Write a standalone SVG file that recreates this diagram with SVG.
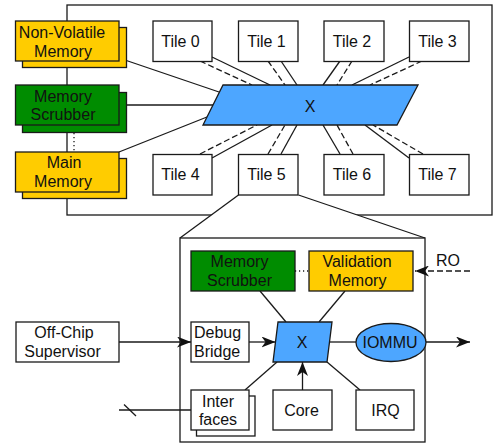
<svg xmlns="http://www.w3.org/2000/svg" width="497" height="446" viewBox="0 0 497 446">
<defs>
<style>
.b{fill:#fff;stroke:#1a1a1a;stroke-width:1.3}
.y{fill:#ffcc00;stroke:#1a1a1a;stroke-width:1.3}
.g{fill:#008c00;stroke:#1a1a1a;stroke-width:1.3}
.u{fill:#4da6ff;stroke:#1a1a1a;stroke-width:1.3}
.l{fill:none;stroke:#1a1a1a;stroke-width:1.3}
.d{fill:none;stroke:#1a1a1a;stroke-width:1.3;stroke-dasharray:6,3}
.o{fill:none;stroke:#1a1a1a;stroke-width:1.3;stroke-dasharray:1.2,2.8}
text{font-family:"Liberation Sans",Arial,sans-serif;font-size:16px;fill:#111;text-anchor:middle}
.s{text-anchor:start}
</style>
<marker id="ah" viewBox="0 0 14 11" refX="14" refY="5.5" markerWidth="14" markerHeight="11" markerUnits="userSpaceOnUse" orient="auto">
<path d="M0,0 L14,5.5 L0,11 L4,5.5 Z" fill="#111"/>
</marker>
</defs>
<rect width="497" height="446" fill="#fff"/>

<g id="chip">
<rect class="b" x="67" y="5" width="425" height="210"/>
</g>

<g id="callout">
<polygon points="238.5,195 298.5,195 425,238 180,238" fill="#fff"/>
<line class="l" x1="238.5" y1="195" x2="180" y2="238"/>
<line class="l" x1="298.5" y1="195" x2="425" y2="238"/>
<rect class="b" x="180" y="238" width="245" height="204"/>
</g>

<g id="connectors">
<line class="l" x1="119" y1="58" x2="219" y2="92"/>
<line class="l" x1="126.5" y1="105" x2="213" y2="105"/>
<line class="l" x1="119" y1="152" x2="207" y2="117"/>
<line class="o" x1="74" y1="133" x2="74" y2="152"/>
<line class="d" x1="200" y1="61" x2="252" y2="85"/>
<line class="l" x1="212" y1="57" x2="270" y2="85"/>
<line class="d" x1="268" y1="61" x2="285" y2="85"/>
<line class="l" x1="281" y1="61" x2="297" y2="85"/>
<line class="l" x1="340" y1="61" x2="323" y2="85"/>
<line class="d" x1="352" y1="61" x2="337" y2="85"/>
<line class="l" x1="409" y1="57" x2="352" y2="85"/>
<line class="d" x1="422" y1="61" x2="370" y2="85"/>
<line class="d" x1="200" y1="154" x2="257" y2="125"/>
<line class="l" x1="212" y1="158" x2="272" y2="125"/>
<line class="d" x1="268" y1="154" x2="285" y2="125"/>
<line class="l" x1="281" y1="154" x2="297" y2="125"/>
<line class="l" x1="340" y1="154" x2="323" y2="125"/>
<line class="d" x1="353" y1="154" x2="337" y2="125"/>
<line class="l" x1="409" y1="158" x2="365" y2="125"/>
<line class="d" x1="423" y1="154" x2="373" y2="125"/>
<line class="o" x1="295" y1="271" x2="309" y2="271"/>
<line class="d" x1="470" y1="271" x2="415" y2="271" marker-end="url(#ah)"/>
<line class="l" x1="119" y1="342" x2="191" y2="342" marker-end="url(#ah)"/>
<line class="l" x1="249" y1="342" x2="275.5" y2="342" marker-end="url(#ah)"/>
<line class="l" x1="330" y1="342" x2="356" y2="342"/>
<line class="l" x1="426" y1="342" x2="470" y2="342" marker-end="url(#ah)"/>
<line class="l" x1="302.5" y1="390" x2="302.5" y2="362" marker-end="url(#ah)"/>
<line class="l" x1="360" y1="390" x2="327" y2="362"/>
<line class="l" x1="277" y1="362" x2="245" y2="390"/>
<line class="l" x1="260" y1="291" x2="286" y2="322"/>
<line class="l" x1="345" y1="291" x2="319" y2="322"/>
<line class="l" x1="119" y1="410" x2="191" y2="410"/>
<line class="l" x1="124" y1="404.5" x2="136" y2="416"/>
</g>

<g id="nvm">
<rect class="y" x="22.5" y="27.5" width="104" height="40"/>
<rect class="y" x="15.5" y="21" width="103.5" height="40"/>
<text x="62" y="38.3">Non-Volatile</text>
<text x="63" y="56.7">Memory</text>
</g>
<g id="scrubber">
<rect class="g" x="22.5" y="92.5" width="104" height="40"/>
<rect class="g" x="15.5" y="85" width="103.5" height="40"/>
<text x="63" y="101.7">Memory</text>
<text x="63" y="120">Scrubber</text>
</g>
<g id="main-memory">
<rect class="y" x="22.5" y="158.5" width="104" height="40"/>
<rect class="y" x="15.5" y="152" width="103.5" height="40"/>
<text x="64" y="168.3">Main</text>
<text x="63" y="186.7">Memory</text>
</g>

<g id="crossbar">
<polygon class="u" points="223,85 418,85 397,125 203,125"/>
<text x="310" y="111.5">X</text>
</g>

<g id="tile0"><rect class="b" x="153" y="21" width="59" height="40.5"/><text x="180.5" y="46.7">Tile 0</text></g>
<g id="tile1"><rect class="b" x="238.5" y="21" width="59.5" height="40.5"/><text x="266.5" y="46.7">Tile 1</text></g>
<g id="tile2"><rect class="b" x="324" y="21" width="60" height="40.5"/><text x="352" y="46.7">Tile 2</text></g>
<g id="tile3"><rect class="b" x="409.5" y="21" width="59.5" height="40.5"/><text x="437.5" y="46.7">Tile 3</text></g>
<g id="tile4"><rect class="b" x="153" y="154.5" width="59" height="40.5"/><text x="180.5" y="180">Tile 4</text></g>
<g id="tile5"><rect class="b" x="238.5" y="154.5" width="59.5" height="40.5"/><text x="266.5" y="180">Tile 5</text></g>
<g id="tile6"><rect class="b" x="324" y="154.5" width="60" height="40.5"/><text x="352" y="180">Tile 6</text></g>
<g id="tile7"><rect class="b" x="409.5" y="154.5" width="59.5" height="40.5"/><text x="437.5" y="180">Tile 7</text></g>

<g id="tile-scrubber">
<rect class="g" x="191" y="251" width="104" height="40"/>
<text x="239.5" y="267">Memory</text>
<text x="239.5" y="285.5">Scrubber</text>
</g>
<g id="validation-memory">
<rect class="y" x="309" y="251" width="104" height="40"/>
<text x="357" y="267">Validation</text>
<text x="357.5" y="285.5">Memory</text>
</g>
<g id="ro-label"><text x="448" y="265.7">RO</text></g>

<g id="supervisor">
<rect class="b" x="16" y="322" width="103" height="40"/>
<text x="64" y="338.3">Off-Chip</text>
<text x="62.5" y="356.7">Supervisor</text>
</g>
<g id="debug-bridge">
<rect class="b" x="191" y="322" width="58" height="40"/>
<text class="s" x="194" y="338.3">Debug</text>
<text class="s" x="194" y="356.7">Bridge</text>
</g>
<g id="tile-crossbar">
<polygon class="u" points="278,322 332,322 327,362 273,362"/>
<text x="302" y="347.5">X</text>
</g>
<g id="iommu">
<ellipse class="u" cx="391" cy="342.5" rx="35" ry="19"/>
<text x="390" y="347.5">IOMMU</text>
</g>
<g id="interfaces">
<rect class="b" x="196.5" y="396" width="58.5" height="40"/>
<rect class="b" x="191" y="390" width="58" height="40"/>
<text x="218" y="406.7">Inter</text>
<text x="218" y="425">faces</text>
</g>
<g id="core">
<rect class="b" x="273" y="390" width="59" height="40"/>
<text x="301.5" y="416">Core</text>
</g>
<g id="irq">
<rect class="b" x="356" y="390" width="58" height="40"/>
<text x="385.5" y="416">IRQ</text>
</g>
</svg>
